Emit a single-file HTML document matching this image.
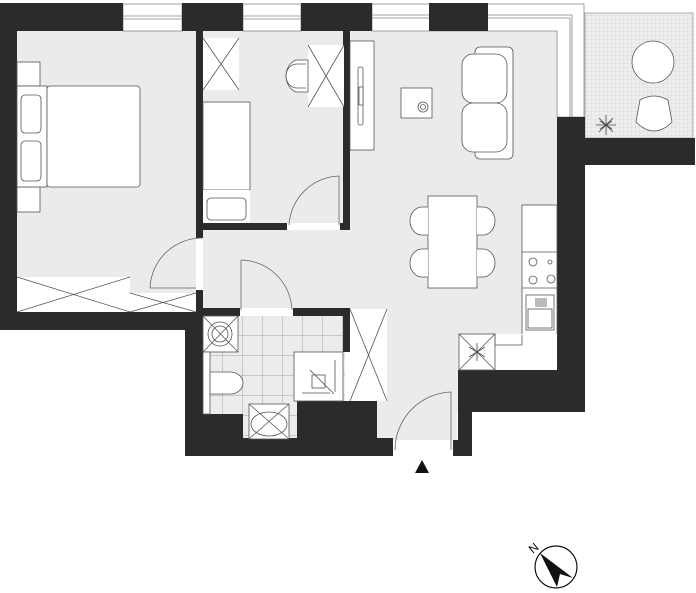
<!DOCTYPE html>
<html><head><meta charset="utf-8"><style>html,body{margin:0;padding:0;background:#fff}svg{display:block}</style></head>
<body>
<svg width="696" height="593" viewBox="0 0 696 593" xmlns="http://www.w3.org/2000/svg">
<defs>
<pattern id="tile" width="20" height="20" patternUnits="userSpaceOnUse" x="203" y="316"><rect width="20" height="20" fill="#ececec"/><path d="M20 0V20M0 20H20" stroke="#888" stroke-width="0.7"/></pattern>
<pattern id="grid" width="4" height="4" patternUnits="userSpaceOnUse"><rect width="4" height="4" fill="#eee"/><path d="M4 0V4M0 4H4" stroke="#cfcfcf" stroke-width="0.5"/></pattern>
</defs>
<g fill="#ebebeb">
<rect x="17" y="31" width="180" height="282"/>
<rect x="203" y="31" width="141" height="194"/>
<rect x="196" y="225" width="361" height="85"/>
<rect x="350" y="31" width="207" height="380"/>
<rect x="377" y="400" width="80" height="40"/>
</g>
<rect x="203" y="316" width="142" height="123" fill="url(#tile)"/>
<rect x="585" y="13" width="108" height="125" fill="url(#grid)" stroke="#999" stroke-width="0.8"/>
<g fill="#fff" stroke="#888" stroke-width="0.8">
<rect x="123" y="4" width="59" height="27"/><line x1="123" y1="16" x2="182" y2="16"/><line x1="123" y1="19" x2="182" y2="19"/>
<rect x="243" y="4" width="58" height="27"/><line x1="243" y1="16" x2="301" y2="16"/><line x1="243" y1="19" x2="301" y2="19"/>
<path d="M372 4H584V117H557V31H372Z"/>
<path d="M372 15H572V117" fill="none"/><path d="M372 18H570V117" fill="none"/>
</g>
<g fill="#2b2b2b">
<rect x="0" y="3" width="123" height="28"/>
<rect x="182" y="3" width="61" height="28"/>
<rect x="301" y="3" width="71" height="28"/>
<rect x="429" y="3" width="59" height="28"/>
<rect x="0" y="3" width="17" height="327"/>
<rect x="0" y="312" width="203" height="18"/>
<rect x="196" y="31" width="7" height="207"/>
<rect x="196" y="290" width="7" height="26"/>
<rect x="203" y="223" width="84" height="7"/>
<rect x="340" y="223" width="10" height="7"/>
<rect x="343" y="31" width="7" height="198"/>
<rect x="185" y="308" width="55" height="8"/>
<rect x="293" y="308" width="57" height="8"/>
<rect x="343" y="308" width="7" height="44"/>
<rect x="185" y="308" width="18" height="148"/>
<rect x="185" y="414" width="58" height="42"/>
<rect x="185" y="438" width="208" height="18"/>
<rect x="297" y="401" width="80" height="55"/>
<rect x="377" y="439" width="16" height="17"/>
<rect x="453" y="440" width="19" height="16"/>
<rect x="458" y="370" width="127" height="42"/>
<rect x="458" y="370" width="14" height="86"/>
<rect x="557" y="117" width="28" height="295"/>
<rect x="557" y="138" width="138" height="27"/>
</g>
<g fill="#fff" stroke="#555" stroke-width="0.8">
<rect x="17" y="62" width="23" height="24"/><rect x="17" y="187" width="23" height="25"/>
<rect x="17" y="86" width="30" height="101"/>
<rect x="47" y="86" width="93" height="101" rx="3"/>
<rect x="21" y="95" width="20" height="38" rx="4"/><rect x="21" y="141" width="20" height="40" rx="4"/>
<rect x="17" y="277" width="113" height="35" stroke="none"/><rect x="130" y="293" width="66" height="19" stroke="none"/>
<path d="M17 277L130 312M17 312L130 277M130 293L196 312M130 312L196 293" fill="none"/>
<rect x="203" y="38" width="36" height="52" stroke="none"/><path d="M203 38L239 90M239 38L203 90" fill="none"/>
<rect x="308" y="45" width="36" height="62" stroke="none"/><path d="M308 45L344 107M344 45L308 107" fill="none"/>
<path d="M308 60H296A15 17 0 0 0 296 92H308Z"/><path d="M306 64H297A11 12 0 0 0 297 88H306" fill="none"/>
<rect x="203" y="102" width="47" height="88"/>
<rect x="203" y="190" width="47" height="33" stroke="none"/><rect x="207" y="198" width="39" height="22" rx="4"/>
<rect x="350" y="41" width="24" height="109"/>
<rect x="358" y="67" width="5" height="58" rx="2"/><rect x="359" y="87" width="4" height="18"/>
<rect x="401" y="88" width="31" height="30"/>
<circle cx="423" cy="107" r="5"/><circle cx="423" cy="107" r="2.5"/>
<rect x="475" y="47" width="38" height="112" rx="5"/>
<rect x="462" y="54" width="45" height="49" rx="11"/><rect x="462" y="103" width="45" height="49" rx="11"/>
<rect x="428" y="196" width="49" height="92"/>
<path d="M428 207H422A12 14 0 0 0 422 235H428M428 249H422A12 14 0 0 0 422 277H428M477 207H483A12 14 0 0 1 483 235H477M477 249H483A12 14 0 0 1 483 277H477"/>
<rect x="522" y="205" width="35" height="130"/>
<line x1="522" y1="252" x2="557" y2="252"/><line x1="522" y1="288" x2="557" y2="288"/>
<circle cx="533" cy="262" r="4"/><circle cx="550" cy="262" r="2"/><circle cx="533" cy="280" r="4"/><ellipse cx="551" cy="279" rx="4" ry="4"/>
<rect x="526" y="295" width="28" height="35"/><rect x="528" y="309" width="24" height="19"/>
<path d="M536 298V307M538 298V307M540 298V307M542 298V307M544 298V307M546 298V307" />
<rect x="459" y="334" width="98" height="36" stroke="none"/><path d="M495 334V345H522V335" fill="none"/>
<rect x="459" y="334" width="36" height="36"/><path d="M459 334L495 370M495 334L459 370" fill="none"/>
<g stroke="#444" fill="none"><path d="M477 343V361M469 347L485 357M469 357L485 347"/></g>
<circle cx="653" cy="62" r="21"/>
<path d="M640 100Q654 92 668 100L672 122Q654 140 636 122Z"/>
<g stroke="#444" fill="none" stroke-width="0.8"><path d="M596 125H616M606 115V135M599 118L613 132M613 118L599 132M600 121L612 129M612 121L600 129"/></g>
<rect x="350" y="309" width="37" height="92" stroke="none"/><path d="M350 309L387 401M387 309L350 401" fill="none"/>
<rect x="203" y="316" width="35" height="36"/><path d="M203 316L238 352M238 316L203 352" fill="none"/>
<circle cx="220" cy="334" r="12" fill="none"/><circle cx="220" cy="334" r="8" fill="none"/>
<rect x="203" y="352" width="7" height="62"/>
<path d="M210 372H230A13 11 0 0 1 230 394H210Z"/>
<rect x="294" y="352" width="49" height="49"/><rect x="312" y="375" width="13" height="13"/>
<path d="M310 370L334 394M335 360V392M302 393H330" fill="none"/>
<rect x="249" y="404" width="40" height="35"/><ellipse cx="269" cy="424" rx="18" ry="12" fill="none"/><path d="M249 404L289 439M289 404L249 439" fill="none"/>
</g>
<g fill="#fff"><rect x="196" y="238" width="7" height="52"/><rect x="287" y="223" width="53" height="7"/><rect x="240" y="308" width="53" height="8"/><rect x="393" y="440" width="60" height="16"/></g>
<g fill="none" stroke="#666" stroke-width="0.8">
<path d="M150 288A52 52 0 0 1 202 238M150 288H196"/>
<path d="M289 225A52 52 0 0 1 339 176V225"/>
<path d="M241 260A52 52 0 0 1 292 310M241 260V310"/>
<path d="M395 450A58 58 0 0 1 451 392V450"/>
</g>
<polygon points="422,460 415,473 429,473" fill="#111"/>
<circle cx="556" cy="567" r="21" fill="#fff" stroke="#111" stroke-width="1.2"/>
<polygon points="540,553 573,578 560,574 557,587" fill="#111"/>
<text x="531" y="551" font-size="12" font-family="Liberation Sans, sans-serif" transform="rotate(-40 536 550)">N</text>
</svg>
</body></html>
